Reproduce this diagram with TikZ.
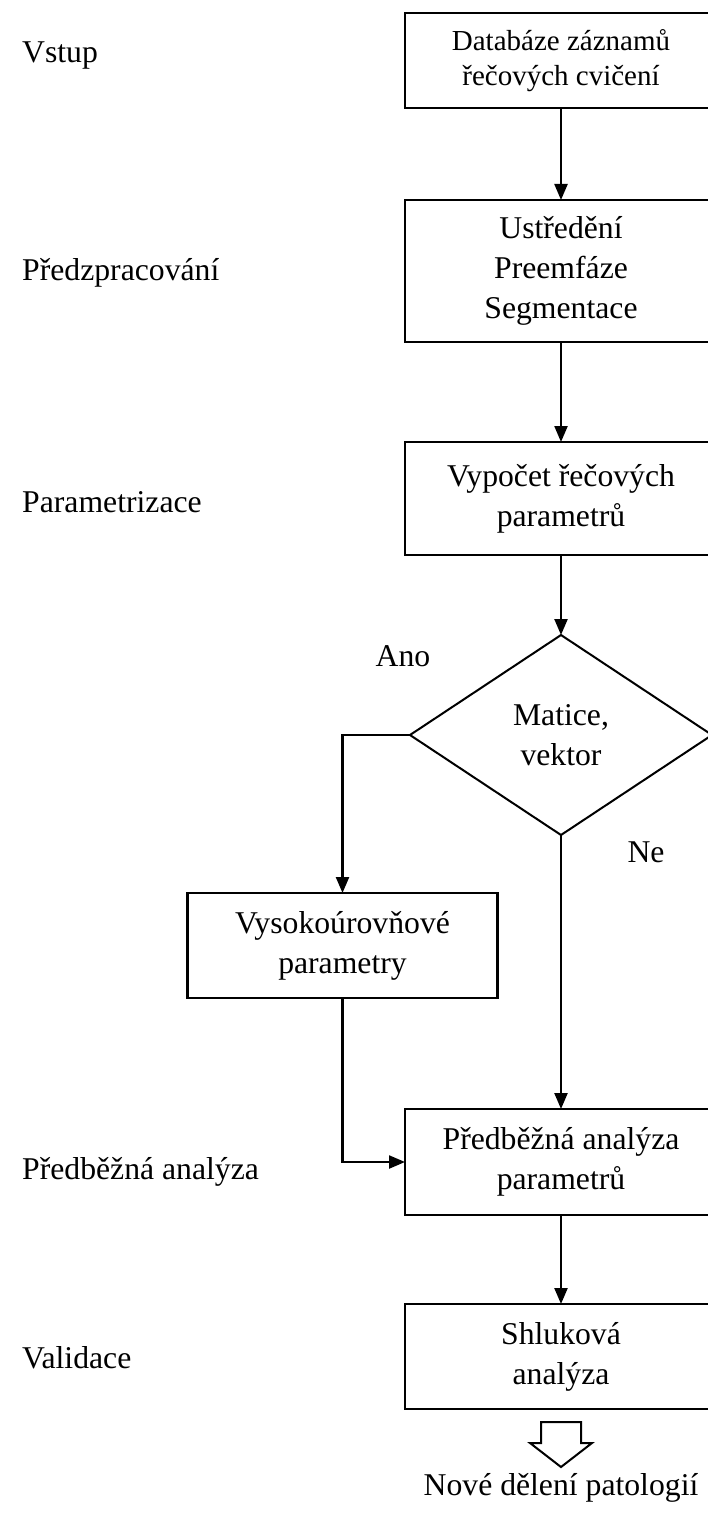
\documentclass[tikz,border=0pt]{standalone}
\usepackage{fontspec}
\setmainfont{Liberation Serif}
\usetikzlibrary{arrows.meta,shapes.geometric}
\begin{document}
\begin{tikzpicture}[x=1pt,y=-1pt,
  every node/.style={font=\fontsize{31.7}{40}\selectfont},
  box/.style={draw,line width=2.6pt,rectangle,minimum width=312pt,inner sep=0pt,outer sep=0pt,align=center},
  dec/.style={draw,line width=2pt,diamond,minimum width=302pt,minimum height=200pt,inner sep=0pt,outer sep=0pt,align=center},
  lab/.style={anchor=west,inner sep=0pt},
  conn/.style={line width=2.3pt,-{Triangle[length=16pt,width=13pt]}},
  hollow/.style={draw,line width=2pt,fill=white,line join=miter}
]
\useasboundingbox (0,0) rectangle (708,1514);
\clip (0,0) rectangle (708,1514);
% left labels
\node[lab] (l1) at (22,55) {Vstup};
\node[lab] (l2) at (22,273) {Předzpracování};
\node[lab] (l3) at (22,502) {Parametrizace};
\node[lab] (l4) at (22,1172) {Předběžná analýza};
\node[lab] (l5) at (22,1358) {Validace};
% boxes
\node[box,minimum height=95pt,font=\fontsize{29}{35}\selectfont] (b1) at (561,60.5) {Databáze záznamů\\řečových cvičení};
\node[box,minimum height=142pt] (b2) at (561,271) {Ustředění\\Preemfáze\\Segmentace};
\node[box,minimum height=113pt] (b3) at (561,498.5) {Vypočet řečových\\parametrů};
\node[dec] (d) at (561,735) {Matice,\\vektor};
\node[box,minimum width=310pt,minimum height=105pt] (b4) at (342.5,945.5) {Vysokoúrovňové\\parametry};
\node[box,minimum height=106pt] (b5) at (561,1162) {Předběžná analýza\\parametrů};
\node[box,minimum height=105pt] (b6) at (561,1356.5) {Shluková\\analýza};
% branch labels
\node (ano) at (403,656) {Ano};
\node (ne) at (646,852) {Ne};
% connectors
\draw[conn] (b1.south) -- (b2.north);
\draw[conn] (b2.south) -- (b3.north);
\draw[conn] (b3.south) -- (d.north);
\draw[conn] (d.west) -| (b4.north);
\draw[conn] (d.south) -- (b5.north);
\draw[conn] (b4.south) |- (b5.west);
\draw[conn] (b5.south) -- (b6.north);
% hollow output arrow
\draw[hollow] (541,1422) -- (581,1422) -- (581,1443) -- (592,1443) -- (561,1467) -- (530,1443) -- (541,1443) -- cycle;
\node (out) at (561,1488) {Nové dělení patologií};
\end{tikzpicture}
\end{document}
